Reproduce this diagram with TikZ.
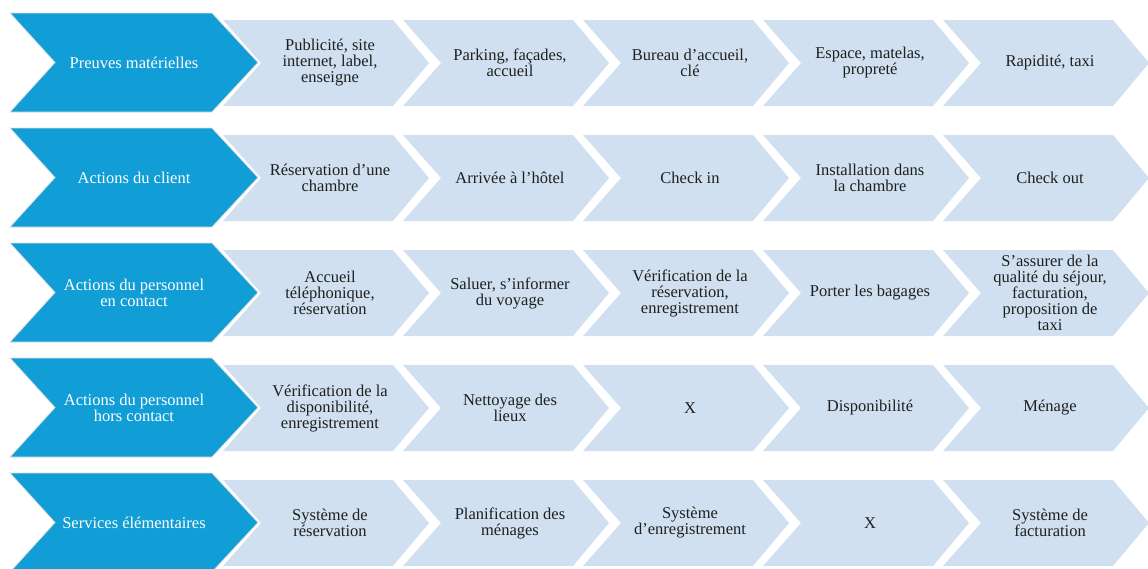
\documentclass[tikz,border=0pt]{standalone}
\usepackage{fontspec}
\setmainfont{Liberation Serif}
\usepackage{tikz}
\definecolor{stagedark}{RGB}{17,157,214}
\definecolor{stagelight}{RGB}{208,224,240}

\begin{document}
\begin{tikzpicture}[x=1pt, y=-1pt,
  headbox/.style={fill=stagedark, draw=black!12, line width=0.8pt},
  cellbox/.style={fill=stagelight, draw=none},
  headtext/.style={text=white, align=center, font=\fontsize{16.5}{16}\selectfont},
  celltext/.style={text=black!88, align=center, font=\fontsize{16.5}{16}\selectfont}]
\useasboundingbox (0,0) rectangle (1148,568);

% rows of chevrons
\foreach \t in {13,128,243,358,473} {
  \foreach \l in {223,403,583,763,943}
    \fill[stagelight] (\l,\t+7) -- (\l+170,\t+7) -- (\l+206,\t+50) -- (\l+170,\t+93)
      -- (\l,\t+93) -- (\l+38,\t+50) -- cycle;
  \draw[headbox] (10,\t) -- (212,\t) -- (258,\t+49.5) -- (212,\t+99)
      -- (10,\t+99) -- (55,\t+49.5) -- cycle;
}

	\node[headtext] (h1) at (134,62.5) {Preuves matérielles};
	\node[headtext] (h2) at (134,177.5) {Actions du client};
	\node[headtext] (h3) at (134,292.5) {Actions du personnel\\en contact};
	\node[headtext] (h4) at (134,407.5) {Actions du personnel\\hors contact};
	\node[headtext] (h5) at (134,522.5) {Services élémentaires};

	\node[celltext] (p1) at (330,63) {Publicité, site\\internet, label,\\enseigne};
	\node[celltext] (p2) at (510,63) {Parking, façades,\\accueil};
	\node[celltext] (p3) at (690,63) {Bureau d’accueil,\\clé};
	\node[celltext] (p4) at (870,63) {Espace, matelas,\\propreté};
	\node[celltext] (p5) at (1050,63) {Rapidité, taxi};

	\node[celltext] (c1) at (330,178) {Réservation d’une\\chambre};
	\node[celltext] (c2) at (510,178) {Arrivée à l’hôtel};
	\node[celltext] (c3) at (690,178) {Check in};
	\node[celltext] (c4) at (870,178) {Installation dans\\la chambre};
	\node[celltext] (c5) at (1050,178) {Check out};

	\node[celltext] (e1) at (330,293) {Accueil\\téléphonique,\\réservation};
	\node[celltext] (e2) at (510,293) {Saluer, s’informer\\du voyage};
	\node[celltext] (e3) at (690,293) {Vérification de la\\réservation,\\enregistrement};
	\node[celltext] (e4) at (870,293) {Porter les bagages};
	\node[celltext] (e5) at (1050,293) {S’assurer de la\\qualité du séjour,\\facturation,\\proposition de\\taxi};

	\node[celltext] (o1) at (330,408) {Vérification de la\\disponibilité,\\enregistrement};
	\node[celltext] (o2) at (510,408) {Nettoyage des\\lieux};
	\node[celltext] (o3) at (690,408) {X};
	\node[celltext] (o4) at (870,408) {Disponibilité};
	\node[celltext] (o5) at (1050,408) {Ménage};

	\node[celltext] (s1) at (330,523) {Système de\\réservation};
	\node[celltext] (s2) at (510,523) {Planification des\\ménages};
	\node[celltext] (s3) at (690,523) {Système\\d’enregistrement};
	\node[celltext] (s4) at (870,523) {X};
	\node[celltext] (s5) at (1050,523) {Système de\\facturation};
\end{tikzpicture}
\end{document}
